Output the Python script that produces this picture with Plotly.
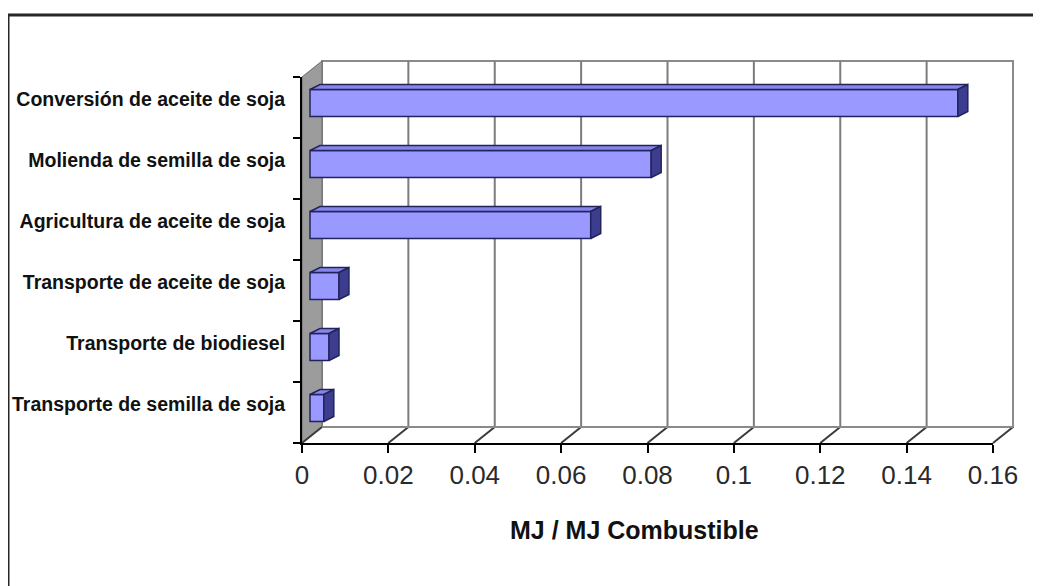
import plotly.graph_objects as go

# ---------------- data ----------------
categories = [
    "Transporte de semilla de soja",
    "Transporte de biodiesel",
    "Transporte de aceite de soja",
    "Agricultura de aceite de soja",
    "Molienda de semilla de soja",
    "Conversión de aceite de soja",
]
values = [0.0032, 0.0044, 0.0067, 0.065, 0.079, 0.150]
x_ticks = [0, 0.02, 0.04, 0.06, 0.08, 0.1, 0.12, 0.14, 0.16]
x_tick_labels = ["0", "0.02", "0.04", "0.06", "0.08", "0.1", "0.12", "0.14", "0.16"]
x_title = "MJ / MJ Combustible"

# ---------------- geometry (pixels, page coordinates) ----------------
PAGE_W, PAGE_H = 1041, 586
BODY = 8                      # default page body margin
W, H = PAGE_W - BODY, PAGE_H - BODY
FX0, FX1 = 302, 993          # front axis: x=0 and x=max
FY0, FY1 = 443, 77           # front plane: bottom / top of category stack
DEPTH_DX, DEPTH_DY = 20, 16  # depth of the 3D box
n = len(categories)
xmax = x_ticks[-1]
PXX = (FX1 - FX0) / xmax
PXY = (FY0 - FY1) / n


def px(xp):
    return (xp - BODY) / W


def py(yp):
    return 1 - (yp - BODY) / H


DX = DEPTH_DX / PXX
DY = DEPTH_DY / PXY
ymin, ymax = -0.5, n - 0.5

# main 3D box axes (slightly larger than the box to avoid clipping edges)
BX0, BX1 = FX0 - 4, FX1 + DEPTH_DX + 4
BY0, BY1 = FY0 + 4, FY1 - DEPTH_DY - 4
xr = [(BX0 - FX0) / PXX, (BX1 - FX0) / PXX]
yr = [ymin + (FY0 - BY0) / PXY, ymin + (FY0 - BY1) / PXY]

# bar placement inside the depth
BOX = 8 / PXX
BOY = 4.5 / PXY
HALF = 13.5 / PXY
BDX = 10 / PXX
BDY = 5 / PXY

BAR_FILL = "#9999ff"
BAR_TOP = "#8686ea"
BAR_SIDE = "#3d3d8f"
BAR_EDGE = "#23235c"

fig = go.Figure()

shapes = []
# back wall
shapes.append(dict(type="rect", xref="x", yref="y", layer="below",
                   x0=DX, x1=xmax + DX, y0=ymin + DY, y1=ymax + DY,
                   line=dict(color="#8a8a8a", width=2), fillcolor="white"))
# back wall gridlines
for t in x_ticks[1:-1]:
    shapes.append(dict(type="line", xref="x", yref="y", layer="below",
                       x0=t + DX, x1=t + DX, y0=ymin + DY, y1=ymax + DY,
                       line=dict(color="#7c7c7c", width=2)))
# left wall
shapes.append(dict(type="path", xref="x", yref="y", layer="below",
                   path=f"M 0,{ymin} L 0,{ymax} L {DX},{ymax + DY} L {DX},{ymin + DY} Z",
                   fillcolor="#9c9c9c", line=dict(color="#6a6a6a", width=1)))
# floor diagonals
for t in x_ticks:
    shapes.append(dict(type="line", xref="x", yref="y", layer="below",
                       x0=t, x1=t + DX, y0=ymin, y1=ymin + DY,
                       line=dict(color="#3a3a3a", width=2)))
# floor back edge
shapes.append(dict(type="line", xref="x", yref="y", layer="below",
                   x0=DX, x1=xmax + DX, y0=ymin + DY, y1=ymin + DY,
                   line=dict(color="#8a8a8a", width=2)))
# outer frame
shapes.append(dict(type="rect", xref="paper", yref="paper", layer="above",
                   x0=px(8), x1=1.2, y0=-0.2, y1=py(15),
                   line=dict(color="#262626", width=3)))

# front faces of bars
ypos = [k + BOY for k in range(n)]
fig.add_trace(go.Bar(
    orientation="h", x=values, y=ypos, base=BOX, width=2 * HALF,
    marker=dict(color=BAR_FILL, line=dict(color=BAR_EDGE, width=1.5)),
    xaxis="x", yaxis="y", showlegend=False, hoverinfo="skip"))

# top and side faces
for k, v in enumerate(values):
    yb, yt = k + BOY - HALF, k + BOY + HALF
    xl, xrr = BOX, BOX + v
    fig.add_trace(go.Scatter(
        x=[xl, xrr, xrr + BDX, xl + BDX, xl],
        y=[yt, yt, yt + BDY, yt + BDY, yt],
        mode="lines", fill="toself", fillcolor=BAR_TOP,
        line=dict(color=BAR_EDGE, width=1.5),
        xaxis="x", yaxis="y", showlegend=False, hoverinfo="skip"))
    fig.add_trace(go.Scatter(
        x=[xrr, xrr + BDX, xrr + BDX, xrr, xrr],
        y=[yb, yb + BDY, yt + BDY, yt, yb],
        mode="lines", fill="toself", fillcolor=BAR_SIDE,
        line=dict(color=BAR_EDGE, width=1.5),
        xaxis="x", yaxis="y", showlegend=False, hoverinfo="skip"))

# invisible helpers so the front axes are drawn
fig.add_trace(go.Scatter(x=[None], y=[None], xaxis="x2", yaxis="y2",
                         showlegend=False, hoverinfo="skip"))
fig.add_trace(go.Scatter(x=[None], y=[None], xaxis="x2", yaxis="y3",
                         showlegend=False, hoverinfo="skip"))

LBL_DY = 8
label_font = dict(family="Liberation Sans, Arial, sans-serif",
                  size=19.5, color="#111111", weight="bold")

fig.update_layout(
    template="none",
    width=W, height=H, autosize=False,
    margin=dict(l=0, r=0, t=0, b=0, pad=0),
    paper_bgcolor="white", plot_bgcolor="rgba(0,0,0,0)",
    shapes=shapes,
    xaxis=dict(domain=[px(BX0), px(BX1)], range=xr, visible=False, fixedrange=True,
               automargin=False),
    yaxis=dict(domain=[py(BY0), py(BY1)], range=yr, visible=False, fixedrange=True,
               automargin=False),
    xaxis2=dict(domain=[px(FX0), px(FX1)], range=[0, xmax], anchor="y2",
                showline=True, linecolor="black", linewidth=2,
                ticks="outside", ticklen=8, tickwidth=2, tickcolor="black",
                tickvals=x_ticks, ticktext=x_tick_labels,
                tickfont=dict(family="Liberation Sans, Arial, sans-serif", size=26, color="#2a2a2a"),
                showgrid=False, zeroline=False, fixedrange=True, automargin=False),
    yaxis2=dict(domain=[py(FY0), py(FY1)], range=[ymin, ymax], anchor="x2",
                showline=True, linecolor="black", linewidth=2,
                ticks="outside", ticklen=7, tickwidth=2, tickcolor="black",
                tickvals=[ymin + i for i in range(n + 1)], ticktext=[""] * (n + 1),
                showgrid=False, zeroline=False, fixedrange=True, automargin=False),
    yaxis3=dict(domain=[py(FY0 - LBL_DY), py(FY1 - LBL_DY)], range=[ymin, ymax], anchor="x2",
                showline=False, ticks="outside", ticklen=12, tickcolor="rgba(0,0,0,0)",
                tickvals=list(range(n)), ticktext=categories, tickfont=label_font,
                showgrid=False, zeroline=False, fixedrange=True, automargin=False),
    annotations=[dict(text=x_title, xref="paper", yref="paper",
                      x=px(634), y=py(530), xanchor="center", yanchor="middle",
                      showarrow=False,
                      font=dict(family="Liberation Sans, Arial, sans-serif", size=25,
                                color="#111111", weight="bold"))],
)

fig.write_html("out.html")
